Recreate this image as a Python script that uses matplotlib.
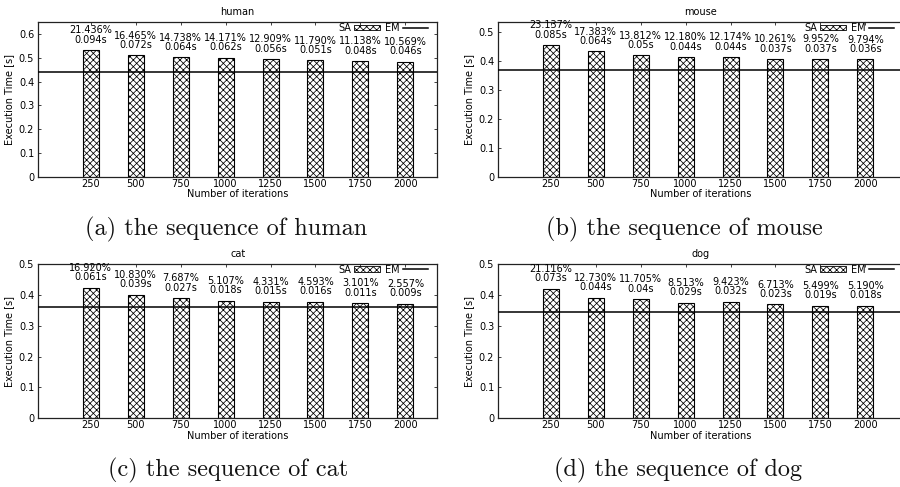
import matplotlib
matplotlib.use("Agg")
import matplotlib.pyplot as plt
from matplotlib.patches import Patch
from matplotlib.lines import Line2D
from matplotlib.ticker import FuncFormatter
import numpy as np

plt.rcParams['font.family'] = ['DejaVu Sans']
plt.rcParams['hatch.linewidth'] = 0.55

iterations = ["250", "500", "750", "1000", "1250", "1500", "1750", "2000"]

human_sa = [0.532, 0.510, 0.502, 0.500, 0.494, 0.489, 0.486, 0.484]
human_em = 0.438
human_pct = ["21.436%", "16.465%", "14.738%", "14.171%", "12.909%", "11.790%", "11.138%", "10.569%"]
human_diff = ["0.094s", "0.072s", "0.064s", "0.062s", "0.056s", "0.051s", "0.048s", "0.046s"]

mouse_sa = [0.453, 0.432, 0.418, 0.412, 0.412, 0.405, 0.405, 0.404]
mouse_em = 0.368
mouse_pct = ["23.137%", "17.383%", "13.812%", "12.180%", "12.174%", "10.261%", "9.952%", "9.794%"]
mouse_diff = ["0.085s", "0.064s", "0.05s", "0.044s", "0.044s", "0.037s", "0.037s", "0.036s"]

cat_sa = [0.423, 0.401, 0.389, 0.380, 0.377, 0.378, 0.373, 0.371]
cat_em = 0.362
cat_pct = ["16.920%", "10.830%", "7.687%", "5.107%", "4.331%", "4.593%", "3.101%", "2.557%"]
cat_diff = ["0.061s", "0.039s", "0.027s", "0.018s", "0.015s", "0.016s", "0.011s", "0.009s"]

dog_sa = [0.419, 0.390, 0.386, 0.375, 0.378, 0.369, 0.365, 0.364]
dog_em = 0.346
dog_pct = ["21.116%", "12.730%", "11.705%", "8.513%", "9.423%", "6.713%", "5.499%", "5.190%"]
dog_diff = ["0.073s", "0.044s", "0.04s", "0.029s", "0.032s", "0.023s", "0.019s", "0.018s"]

W, H = 900, 487
fig = plt.figure(figsize=(W / 100, H / 100), dpi=100)

def add_px_axes(l, r, t, b):
    return fig.add_axes([l / W, 1 - b / H, (r - l) / W, (b - t) / H])

FS = 7.0

def panel(ax, name, sa, em, pct, diff, ymax, yticks, xright):
    x = np.arange(len(iterations))
    ax.bar(x, sa, width=0.356, color='white', edgecolor='black',
           hatch='xxxxx', linewidth=0.8, zorder=2)
    ax.axhline(em, color='black', linewidth=1.1, zorder=3)
    for xi, v, p, d in zip(x, sa, pct, diff):
        ax.annotate(p + "\n" + d, (xi, v), xytext=(0, 4.0), textcoords='offset points',
                    ha='center', va='bottom', fontsize=FS, linespacing=0.9,
                    annotation_clip=False)
    ax.set_xlim(-1.17, xright)
    ax.set_ylim(0, ymax)
    ax.set_xticks(x)
    ax.set_xticklabels(iterations)
    ax.set_yticks(yticks)
    ax.yaxis.set_major_formatter(FuncFormatter(lambda v, p: "0" if abs(v) < 1e-9 else f"{v:.1f}"))
    ax.tick_params(direction='in', length=2.5, width=0.6, labelsize=FS,
                   top=True, right=True, colors='#222222', labelcolor='black')
    ax.tick_params(axis='x', pad=1.5)
    ax.tick_params(axis='y', pad=3.0)
    for s in ax.spines.values():
        s.set_linewidth(0.9)
        s.set_color('#222222')
    ax.set_xlabel("Number of iterations", fontsize=FS, labelpad=0.5)
    ax.set_ylabel("Execution Time [s]", fontsize=FS, labelpad=3.5)
    ax.set_title(name, fontsize=FS, pad=5.0)
    handles = [Patch(facecolor='white', edgecolor='black', hatch='xxxxx', linewidth=0.6),
               Line2D([0], [0], color='black', linewidth=1.1)]
    ax.legend(handles, ["SA", "EM"], loc='upper right', bbox_to_anchor=(0.995, 1.04),
              ncol=2, frameon=False, fontsize=FS, markerfirst=False,
              handlelength=2.6, handleheight=0.55, handletextpad=0.3,
              columnspacing=0.6, borderaxespad=0.3)

axa = add_px_axes(38.3, 437, 22.3, 176.7)
axb = add_px_axes(498.3, 903, 22.3, 176.7)
axc = add_px_axes(38.3, 437, 264, 418.3)
axd = add_px_axes(498.3, 903, 264, 418.3)

xr_left = 7.705
xr_right = (903 - 551.2) / 44.87

panel(axa, "human", human_sa, human_em, human_pct, human_diff, 0.649,
      [0, 0.1, 0.2, 0.3, 0.4, 0.5, 0.6], xr_left)
panel(axb, "mouse", mouse_sa, mouse_em, mouse_pct, mouse_diff, 0.532,
      [0, 0.1, 0.2, 0.3, 0.4, 0.5], xr_right)
panel(axc, "cat", cat_sa, cat_em, cat_pct, cat_diff, 0.5,
      [0, 0.1, 0.2, 0.3, 0.4, 0.5], xr_left)
panel(axd, "dog", dog_sa, dog_em, dog_pct, dog_diff, 0.5,
      [0, 0.1, 0.2, 0.3, 0.4, 0.5], xr_right)

captions = ["(a) the sequence of human", "(b) the sequence of mouse",
            "(c) the sequence of cat", "(d) the sequence of dog"]
cap_pos = [(226, 229), (684, 229), (228, 470.5), (678, 470.5)]
for txt, (cx, cy) in zip(captions, cap_pos):
    fig.text(cx / W, 1 - cy / H, txt, ha='center', va='center',
             fontsize=17.5, family='cmr10', color='#111111')

fig.savefig("out.png", dpi=100)
